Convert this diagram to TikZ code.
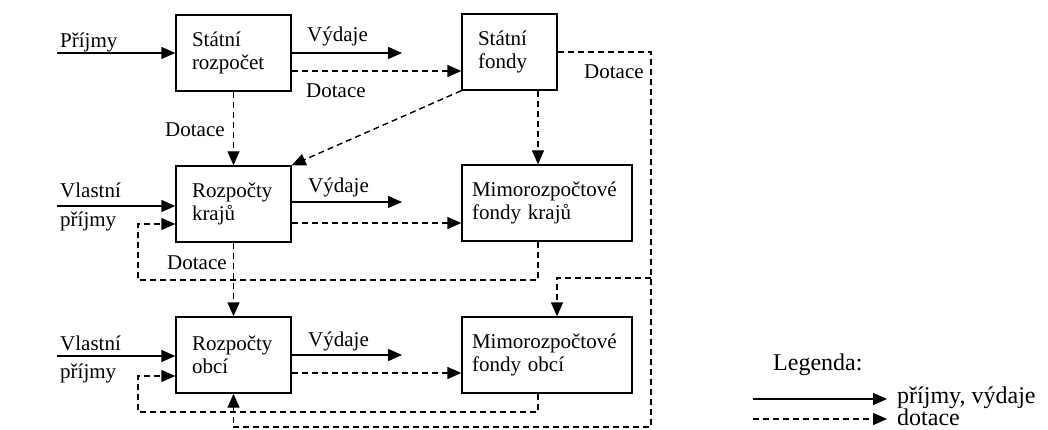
\documentclass[tikz,border=0pt]{standalone}
\usepackage{fontspec}
\setmainfont{Liberation Serif}
\usetikzlibrary{arrows.meta}
\begin{document}
\begin{tikzpicture}[x=1pt,y=-1pt,
  box/.style={draw,line width=1.4pt,minimum height=76pt,inner ysep=0pt,align=left,
    font=\fontsize{21}{23}\selectfont},
  lbl/.style={anchor=base west,inner sep=0pt,font=\fontsize{21}{23}\selectfont},
  lgd/.style={anchor=base west,inner sep=0pt,font=\fontsize{24}{26}\selectfont},
  sol/.style={line width=1.4pt,-{Triangle[length=14pt,width=12pt]}},
  dsh/.style={line width=1.4pt,dash pattern=on 6pt off 4pt,-{Triangle[length=14pt,width=12pt]}}]
\fill[white] (0,0) rectangle (1048,430);
\useasboundingbox (0,0) rectangle (1048,430);

% boxes
\node[box,minimum width=115pt,inner xsep=16pt,text width=83pt] (b1) at (233.5,53) {Státní\\rozpočet};
\node[box,minimum width=95pt,inner xsep=16pt,text width=63pt] (b2) at (509.5,52) {Státní\\fondy};
\node[box,minimum width=115pt,inner xsep=16pt,text width=83pt] (b3) at (233.5,204) {Rozpočty\\krajů};
\node[box,minimum width=170pt,inner xsep=10pt,text width=150pt] (b4) at (547,203) {Mimorozpočtové\\fondy krajů};
\node[box,minimum width=115pt,inner xsep=16pt,text width=83pt] (b5) at (233.5,355) {Rozpočty\\obcí};
\node[box,minimum width=170pt,inner xsep=10pt,text width=150pt] (b6) at (547,355) {Mimorozpočtové\\fondy obcí};

% free ends and corners
\coordinate (in1) at (57,53);
\coordinate (out1) at (402,53);
\coordinate (in2) at (57,206);
\coordinate (out2) at (402,202);
\coordinate (in3) at (57,356);
\coordinate (out3) at (402,355);
\coordinate (r1) at (651,52);
\coordinate (r2) at (651,427);
\coordinate (r3) at (651,278);
\coordinate (l2) at (138,280);
\coordinate (l3) at (138,412);

% row 1
\draw[sol] (in1) -- (b1.west);
\draw[sol] (b1.east) -- (out1);
\draw[dsh] ([yshift=-18pt]b1.east) -- ([yshift=-19pt]b2.west);
\draw[dsh] (b1.south) -- (b3.north);
\draw[dsh] (b2.south west) -- (b3.north east);
\draw[dsh] ([xshift=28.5pt]b2.south) -- ([xshift=-9pt]b4.north);
\draw[dsh] (b2.east) -- (r1) -- (r2) -| (b5.south);
\draw[dsh] (r3) -| ([xshift=10pt]b6.north);

% row 2
\draw[sol] (in2) -- ([yshift=-2pt]b3.west);
\draw[sol] ([yshift=2pt]b3.east) -- (out2);
\draw[dsh] ([yshift=-19pt]b3.east) -- ([yshift=-20pt]b4.west);
\draw[dsh] ([xshift=-9pt]b4.south) |- (l2) |- ([yshift=-20pt]b3.west);
\draw[dsh] (b3.south) -- (b5.north);

% row 3
\draw[sol] (in3) -- ([yshift=-1pt]b5.west);
\draw[sol] (b5.east) -- (out3);
\draw[dsh] ([yshift=-18pt]b5.east) -- ([yshift=-18pt]b6.west);
\draw[dsh] ([xshift=-9pt]b6.south) |- (l3) |- ([yshift=-21pt]b5.west);

% labels
\node[lbl] (tP1) at (60,48) {Příjmy};
\node[lbl] (tV1) at (307,42) {Výdaje};
\node[lbl] (tD1) at (306,98) {Dotace};
\node[lbl] (tD2) at (165,137) {Dotace};
\node[lbl] (tD3) at (584,79) {Dotace};
\node[lbl] (tVl2) at (60,198) {Vlastní};
\node[lbl] (tPr2) at (60,226) {příjmy};
\node[lbl] (tV2) at (308,193) {Výdaje};
\node[lbl] (tD4) at (167,269) {Dotace};
\node[lbl] (tVl3) at (60,350) {Vlastní};
\node[lbl] (tPr3) at (60,378) {příjmy};
\node[lbl] (tV3) at (308,346) {Výdaje};

% legend
\coordinate (lg1s) at (753,399);
\coordinate (lg1e) at (887,399);
\coordinate (lg2s) at (753,419);
\coordinate (lg2e) at (887,419);
\node[lgd] (lgt) at (773,370) {Legenda:};
\draw[sol] (lg1s) -- (lg1e);
\draw[dsh] (lg2s) -- (lg2e);
\node[lgd] (lgp) at (897,403) {příjmy, výdaje};
\node[lgd] (lgd) at (897,425) {dotace};
\end{tikzpicture}
\end{document}
